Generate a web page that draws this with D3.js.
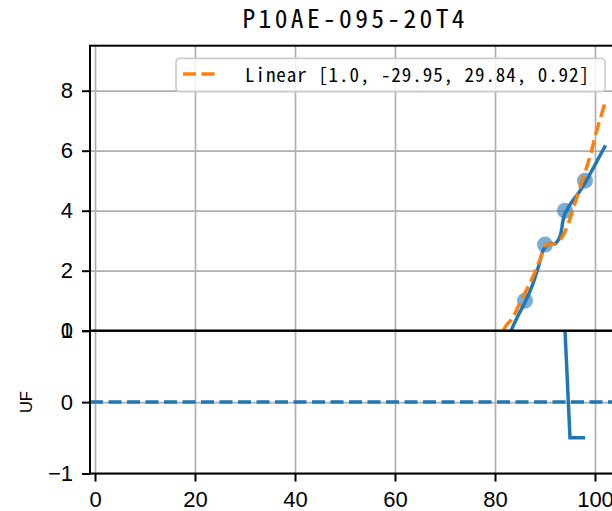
<!DOCTYPE html>
<html>
<head>
<meta charset="utf-8">
<script src="https://cdn.jsdelivr.net/npm/d3@7"></script>
<style>
  html, body { margin: 0; padding: 0; background: #fff; }
  svg { display: block; }
  .tick text { font-family: "Liberation Sans", Arial, sans-serif; font-size: 22px; fill: #000; }
</style>
</head>
<body>
<svg id="chart" width="612" height="511"></svg>
<script>
// ---- data ----
const titleText = "P10AE-095-20T4";
const legendLabel = "Linear [1.0, -29.95, 29.84, 0.92]";
const yLabelBottom = "UF";

const xTicks = [0, 20, 40, 60, 80, 100];
const topYTicks = [0, 2, 4, 6, 8];
const bottomYTicks = [-1, 0, 1];

// observed points (scatter)
const pointX = [86, 90, 94, 98];
const pointY = [1.0, 2.87, 4.0, 5.0];

// smoothed curve (solid blue)
const smoothX = [83.2, 84.7, 86.1, 87.5, 88.7, 89.7, 90.7, 92.0, 93.0, 93.8, 95.0, 96.7, 98.0, 100.0, 102.1];
const smoothY = [0.0, 0.53, 0.98, 1.53, 2.14, 2.7, 2.89, 2.9, 3.14, 3.81, 4.2, 4.59, 4.92, 5.53, 6.18];

// linear fit curve (orange dashed)
const fitX = [81.7, 82.5, 83.3, 85.3, 87.3, 89.0, 90.3, 91.7, 93.3, 94.7, 96.0, 97.3, 99.0, 100.3, 102.0];
const fitY = [0.03, 0.23, 0.37, 1.03, 1.7, 2.37, 2.87, 2.89, 3.09, 3.59, 4.26, 4.92, 5.81, 6.64, 7.59];

// UF step (bottom panel)
const ufX = [94, 95, 98];
const ufY = [1, -0.5, -0.5];
const ufBaseX = [-1, 104.4];
const ufBaseY = [0, 0];

// ---- layout ----
const svg = d3.select("#chart");
const L = 90, R = 617;
const topT = 45.7, topB = 330.7, botT = 330.7, botB = 473.5;
const blue = "#1f77b4", orange = "#ff7f0e", grid = "#b0b0b0";

const x = d3.scaleLinear().domain([-1, 104.4]).range([L, R]);
const yTop = d3.scaleLinear().domain([0, 9.5]).range([topB, topT]);
const yBot = d3.scaleLinear().domain([-1, 1]).range([botB, botT]);

const defs = svg.append("defs");
defs.append("clipPath").attr("id", "clipTop").append("rect")
  .attr("x", L).attr("y", topT).attr("width", R - L).attr("height", topB - topT);
defs.append("clipPath").attr("id", "clipBot").append("rect")
  .attr("x", L).attr("y", botT).attr("width", R - L).attr("height", botB - botT);

function gridAxes(y, yTicks, top, bottom) {
  const gx = svg.append("g").attr("transform", `translate(0,${bottom})`)
    .call(d3.axisBottom(x).tickValues(xTicks).tickSize(-(bottom - top)).tickFormat(""));
  gx.select(".domain").remove();
  gx.selectAll("line").attr("stroke", grid).attr("stroke-width", 1.7);
  const gy = svg.append("g").attr("transform", `translate(${L},0)`)
    .call(d3.axisLeft(y).tickValues(yTicks).tickSize(-(R - L)).tickFormat(""));
  gy.select(".domain").remove();
  gy.selectAll("line").attr("stroke", grid).attr("stroke-width", 1.7);
}
gridAxes(yTop, topYTicks, topT, topB);
gridAxes(yBot, bottomYTicks, botT, botB);

// ---- top panel marks ----
const gTop = svg.append("g").attr("clip-path", "url(#clipTop)");
const smoothData = smoothX.map((d, i) => [d, smoothY[i]]);
const fitData = fitX.map((d, i) => [d, fitY[i]]);
const lineTop = d3.line().x(d => x(d[0])).y(d => yTop(d[1])).curve(d3.curveCatmullRom.alpha(0.5));

gTop.selectAll("circle").data(pointX.map((d, i) => [d, pointY[i]])).join("circle")
  .attr("cx", d => x(d[0])).attr("cy", d => yTop(d[1])).attr("r", 8)
  .attr("fill", blue).attr("fill-opacity", 0.6);
gTop.append("path").datum(smoothData).attr("d", lineTop)
  .attr("fill", "none").attr("stroke", blue).attr("stroke-width", 3.5);
gTop.append("path").datum(fitData).attr("d", lineTop)
  .attr("fill", "none").attr("stroke", orange).attr("stroke-width", 3.5)
  .attr("stroke-dasharray", "13 5.5");

// ---- bottom panel marks ----
const gBot = svg.append("g").attr("clip-path", "url(#clipBot)");
const lineBot = d3.line().x(d => x(d[0])).y(d => yBot(d[1]));
gBot.append("path").datum(ufBaseX.map((d, i) => [d, ufBaseY[i]])).attr("d", lineBot)
  .attr("fill", "none").attr("stroke", blue).attr("stroke-width", 3.5)
  .attr("stroke-dasharray", "13 5.5");
gBot.append("path").datum(ufX.map((d, i) => [d, ufY[i]])).attr("d", lineBot)
  .attr("fill", "none").attr("stroke", blue).attr("stroke-width", 3.5);

// ---- spines ----
[[topT, topB], [botT, botB]].forEach(([t, b]) => {
  svg.append("rect").attr("x", L).attr("y", t).attr("width", R - L).attr("height", b - t)
    .attr("fill", "none").attr("stroke", "#000").attr("stroke-width", 2);
});

// ---- axes ----
function styleAxis(g) {
  g.select(".domain").remove();
  g.selectAll(".tick line").attr("stroke", "#000").attr("stroke-width", 2);
}
const fmt = d => d < 0 ? "\u2212" + Math.abs(d) : String(d);
svg.append("g").attr("transform", `translate(${L},0)`)
  .call(d3.axisLeft(yTop).tickValues(topYTicks).tickSize(8).tickPadding(9).tickFormat(fmt))
  .call(styleAxis);
svg.append("g").attr("transform", `translate(${L},0)`)
  .call(d3.axisLeft(yBot).tickValues(bottomYTicks).tickSize(8).tickPadding(9).tickFormat(fmt))
  .call(styleAxis);
svg.append("g").attr("transform", `translate(0,${botB})`)
  .call(d3.axisBottom(x).tickValues(xTicks).tickSize(8).tickPadding(10).tickFormat(fmt))
  .call(styleAxis);
svg.selectAll(".tick text").attr("font-family", null).attr("font-size", null);

// y label
svg.append("text")
  .attr("transform", `translate(32,${(botT + botB) / 2}) rotate(-90)`)
  .attr("text-anchor", "middle")
  .style("font-family", "'Liberation Sans', Arial, sans-serif")
  .style("font-size", "16.5px")
  .text(yLabelBottom);

// title
const monoFont = "'Noto Sans Mono CJK JP', 'Noto Sans Mono CJK SC', 'DejaVu Sans Mono', 'Liberation Mono', monospace";
svg.append("text")
  .attr("x", 353.5).attr("y", 28.3)
  .attr("text-anchor", "middle")
  .attr("textLength", 222).attr("lengthAdjust", "spacing")
  .style("font-family", monoFont).style("font-size", "25.5px")
  .text(titleText);

// legend
const lg = svg.append("g");
lg.append("rect").attr("x", 176).attr("y", 58.3).attr("width", 429).attr("height", 33.4)
  .attr("rx", 4).attr("fill", "#fff").attr("fill-opacity", 0.8)
  .attr("stroke", "#cccccc").attr("stroke-width", 1.7);
lg.append("line").attr("x1", 183).attr("x2", 220).attr("y1", 74).attr("y2", 74)
  .attr("stroke", orange).attr("stroke-width", 3.5).attr("stroke-dasharray", "13 5.5");
lg.append("text").attr("x", 245).attr("y", 81.7)
  .attr("textLength", 344).attr("lengthAdjust", "spacing")
  .style("font-family", monoFont).style("font-size", "19px")
  .text(legendLabel);
</script>
</body>
</html>
